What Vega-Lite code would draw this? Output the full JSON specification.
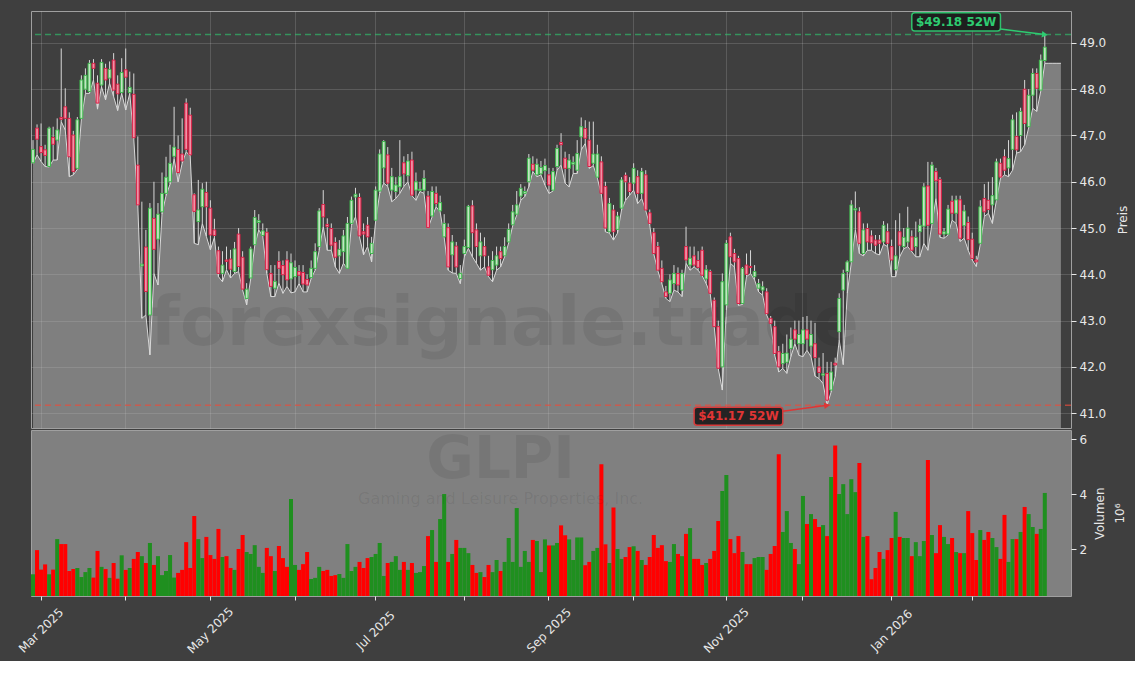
{
"$schema": "https://vega.github.io/schema/vega-lite/v6.json",
"background": "#3f3f3f",
"padding": {"left": 15, "top": 10, "right": 5, "bottom": 5},
"spacing": 0,
"datasets": {"px": [
{"date":"2025-02-27","open":46.41,"high":46.90,"low":46.40,"close":46.70,"volume":1.08},
{"date":"2025-02-28","open":47.16,"high":47.24,"low":46.58,"close":46.92,"volume":1.96},
{"date":"2025-03-03","open":46.76,"high":47.26,"low":46.44,"close":46.63,"volume":1.25},
{"date":"2025-03-04","open":46.69,"high":46.80,"low":46.33,"close":46.57,"volume":1.44},
{"date":"2025-03-05","open":46.33,"high":47.19,"low":46.32,"close":47.16,"volume":1.08},
{"date":"2025-03-06","open":46.96,"high":47.19,"low":46.47,"close":46.81,"volume":1.25},
{"date":"2025-03-07","open":46.90,"high":47.37,"low":46.47,"close":47.12,"volume":2.36},
{"date":"2025-03-10","open":47.39,"high":48.88,"low":47.30,"close":47.35,"volume":2.18},
{"date":"2025-03-11","open":47.62,"high":48.02,"low":47.12,"close":47.37,"volume":2.18},
{"date":"2025-03-12","open":47.37,"high":47.50,"low":46.11,"close":46.54,"volume":1.20},
{"date":"2025-03-13","open":47.01,"high":47.10,"low":46.15,"close":46.22,"volume":1.27},
{"date":"2025-03-14","open":46.29,"high":47.40,"low":46.27,"close":47.34,"volume":1.31},
{"date":"2025-03-17","open":47.37,"high":48.30,"low":47.35,"close":48.20,"volume":0.98},
{"date":"2025-03-18","open":48.00,"high":48.45,"low":47.91,"close":48.30,"volume":1.16},
{"date":"2025-03-19","open":47.95,"high":48.63,"low":47.91,"close":48.56,"volume":1.31},
{"date":"2025-03-20","open":48.56,"high":48.65,"low":48.20,"close":48.45,"volume":0.96},
{"date":"2025-03-21","open":48.13,"high":48.30,"low":47.57,"close":47.70,"volume":1.93},
{"date":"2025-03-24","open":48.09,"high":48.65,"low":48.05,"close":48.58,"volume":1.35},
{"date":"2025-03-25","open":48.45,"high":48.55,"low":47.77,"close":48.20,"volume":1.27},
{"date":"2025-03-26","open":48.24,"high":48.60,"low":48.13,"close":48.43,"volume":0.95},
{"date":"2025-03-27","open":48.63,"high":48.78,"low":47.84,"close":47.98,"volume":1.49},
{"date":"2025-03-28","open":48.11,"high":48.30,"low":47.54,"close":47.90,"volume":0.92},
{"date":"2025-03-31","open":47.93,"high":48.67,"low":47.91,"close":48.36,"volume":1.77},
{"date":"2025-04-01","open":48.42,"high":48.88,"low":47.55,"close":48.26,"volume":1.24},
{"date":"2025-04-02","open":47.93,"high":48.38,"low":47.91,"close":48.04,"volume":1.31},
{"date":"2025-04-03","open":47.89,"high":48.34,"low":46.92,"close":46.95,"volume":1.64},
{"date":"2025-04-04","open":46.36,"high":46.98,"low":45.48,"close":45.50,"volume":1.89},
{"date":"2025-04-07","open":44.18,"high":45.57,"low":43.05,"close":44.22,"volume":1.74},
{"date":"2025-04-08","open":44.59,"high":44.96,"low":43.12,"close":43.63,"volume":1.49},
{"date":"2025-04-09","open":43.12,"high":45.54,"low":42.26,"close":45.43,"volume":2.22},
{"date":"2025-04-10","open":45.21,"high":46.00,"low":44.02,"close":44.54,"volume":1.42},
{"date":"2025-04-11","open":44.76,"high":45.54,"low":43.77,"close":45.30,"volume":1.74},
{"date":"2025-04-14","open":45.35,"high":46.20,"low":45.30,"close":45.75,"volume":1.05},
{"date":"2025-04-15","open":45.75,"high":46.54,"low":45.70,"close":46.10,"volume":1.20},
{"date":"2025-04-16","open":46.00,"high":46.80,"low":45.95,"close":46.40,"volume":1.78},
{"date":"2025-04-17","open":46.55,"high":47.62,"low":46.50,"close":46.75,"volume":0.96},
{"date":"2025-04-21","open":46.70,"high":47.00,"low":46.00,"close":46.20,"volume":1.13},
{"date":"2025-04-22","open":46.60,"high":47.37,"low":46.40,"close":46.45,"volume":1.24},
{"date":"2025-04-23","open":47.70,"high":47.80,"low":46.65,"close":46.70,"volume":2.25},
{"date":"2025-04-24","open":47.44,"high":47.60,"low":46.55,"close":46.58,"volume":1.31},
{"date":"2025-04-25","open":45.72,"high":45.75,"low":44.67,"close":45.36,"volume":3.20},
{"date":"2025-04-28","open":45.14,"high":46.04,"low":44.64,"close":45.39,"volume":2.36},
{"date":"2025-04-29","open":45.46,"high":45.97,"low":45.10,"close":45.84,"volume":1.67},
{"date":"2025-04-30","open":45.77,"high":46.00,"low":44.82,"close":45.46,"volume":2.44},
{"date":"2025-05-01","open":45.43,"high":45.60,"low":44.53,"close":44.85,"volume":1.78},
{"date":"2025-05-02","open":44.96,"high":45.20,"low":44.80,"close":44.84,"volume":1.64},
{"date":"2025-05-05","open":44.51,"high":44.60,"low":43.95,"close":44.02,"volume":2.73},
{"date":"2025-05-06","open":44.02,"high":44.50,"low":43.84,"close":44.20,"volume":1.71},
{"date":"2025-05-07","open":44.31,"high":44.60,"low":44.10,"close":44.28,"volume":1.74},
{"date":"2025-05-08","open":44.33,"high":44.53,"low":43.92,"close":44.11,"volume":1.31},
{"date":"2025-05-09","open":44.06,"high":44.70,"low":44.02,"close":44.55,"volume":1.24},
{"date":"2025-05-12","open":44.87,"high":45.00,"low":44.06,"close":44.17,"volume":2.00},
{"date":"2025-05-13","open":44.37,"high":44.50,"low":43.66,"close":43.68,"volume":2.51},
{"date":"2025-05-14","open":43.48,"high":43.81,"low":43.34,"close":43.68,"volume":1.89},
{"date":"2025-05-15","open":43.92,"high":44.60,"low":43.90,"close":44.55,"volume":1.82},
{"date":"2025-05-16","open":44.64,"high":45.39,"low":44.62,"close":45.23,"volume":2.14},
{"date":"2025-05-19","open":45.12,"high":45.30,"low":44.96,"close":45.16,"volume":1.35},
{"date":"2025-05-20","open":44.84,"high":45.10,"low":44.82,"close":44.94,"volume":1.13},
{"date":"2025-05-21","open":44.91,"high":45.00,"low":44.02,"close":44.10,"volume":2.04},
{"date":"2025-05-22","open":44.02,"high":44.20,"low":43.52,"close":43.74,"volume":1.74},
{"date":"2025-05-23","open":43.70,"high":44.20,"low":43.52,"close":43.85,"volume":1.20},
{"date":"2025-05-27","open":44.28,"high":44.50,"low":43.81,"close":44.13,"volume":2.11},
{"date":"2025-05-28","open":44.19,"high":44.30,"low":43.59,"close":43.99,"volume":1.67},
{"date":"2025-05-29","open":44.31,"high":44.50,"low":43.74,"close":43.88,"volume":1.35},
{"date":"2025-05-30","open":43.90,"high":44.45,"low":43.60,"close":44.25,"volume":3.82},
{"date":"2025-06-02","open":43.95,"high":44.30,"low":43.62,"close":44.15,"volume":1.42},
{"date":"2025-06-03","open":44.06,"high":44.20,"low":43.80,"close":43.98,"volume":1.24},
{"date":"2025-06-04","open":44.04,"high":44.20,"low":43.62,"close":43.79,"volume":1.45},
{"date":"2025-06-05","open":43.89,"high":44.00,"low":43.62,"close":43.77,"volume":1.89},
{"date":"2025-06-06","open":43.93,"high":44.30,"low":43.91,"close":44.13,"volume":0.91},
{"date":"2025-06-09","open":44.13,"high":44.67,"low":44.09,"close":44.49,"volume":0.95},
{"date":"2025-06-10","open":44.60,"high":45.43,"low":44.52,"close":45.37,"volume":1.35},
{"date":"2025-06-11","open":45.51,"high":45.82,"low":45.03,"close":45.24,"volume":1.20},
{"date":"2025-06-12","open":45.08,"high":45.21,"low":44.52,"close":45.03,"volume":1.24},
{"date":"2025-06-13","open":44.99,"high":45.10,"low":44.52,"close":44.63,"volume":1.02},
{"date":"2025-06-16","open":44.69,"high":44.80,"low":44.16,"close":44.37,"volume":1.05},
{"date":"2025-06-17","open":44.40,"high":44.74,"low":44.02,"close":44.54,"volume":1.09},
{"date":"2025-06-18","open":44.49,"high":44.96,"low":44.24,"close":44.83,"volume":0.95},
{"date":"2025-06-20","open":44.13,"high":45.24,"low":44.12,"close":45.10,"volume":2.18},
{"date":"2025-06-23","open":45.10,"high":45.68,"low":45.06,"close":45.60,"volume":1.20},
{"date":"2025-06-24","open":45.67,"high":45.87,"low":45.24,"close":45.73,"volume":1.35},
{"date":"2025-06-25","open":45.66,"high":45.75,"low":44.81,"close":44.83,"volume":1.53},
{"date":"2025-06-26","open":44.92,"high":45.10,"low":44.42,"close":44.87,"volume":1.31},
{"date":"2025-06-27","open":45.06,"high":45.24,"low":44.60,"close":44.81,"volume":1.67},
{"date":"2025-06-30","open":44.45,"high":44.81,"low":44.27,"close":44.67,"volume":1.71},
{"date":"2025-07-01","open":45.17,"high":45.90,"low":45.15,"close":45.82,"volume":1.82},
{"date":"2025-07-02","open":45.80,"high":46.70,"low":45.75,"close":46.60,"volume":2.22},
{"date":"2025-07-03","open":46.30,"high":46.90,"low":45.97,"close":46.87,"volume":1.02},
{"date":"2025-07-07","open":46.58,"high":46.75,"low":45.90,"close":45.97,"volume":1.49},
{"date":"2025-07-08","open":45.82,"high":46.30,"low":45.57,"close":46.11,"volume":1.53},
{"date":"2025-07-09","open":45.79,"high":46.10,"low":45.64,"close":45.93,"volume":1.74},
{"date":"2025-07-10","open":45.89,"high":46.90,"low":45.75,"close":46.11,"volume":1.24},
{"date":"2025-07-11","open":46.41,"high":46.55,"low":45.90,"close":46.17,"volume":1.53},
{"date":"2025-07-14","open":46.13,"high":46.60,"low":46.00,"close":46.45,"volume":1.24},
{"date":"2025-07-15","open":46.47,"high":46.65,"low":45.70,"close":45.71,"volume":1.49},
{"date":"2025-07-16","open":45.82,"high":46.20,"low":45.60,"close":46.00,"volume":1.13},
{"date":"2025-07-17","open":45.81,"high":46.00,"low":45.79,"close":45.84,"volume":1.16},
{"date":"2025-07-18","open":45.82,"high":46.25,"low":45.75,"close":46.07,"volume":1.38},
{"date":"2025-07-21","open":45.69,"high":45.80,"low":45.00,"close":45.01,"volume":2.47},
{"date":"2025-07-22","open":45.26,"high":45.90,"low":45.24,"close":45.79,"volume":2.69},
{"date":"2025-07-23","open":45.75,"high":45.90,"low":45.46,"close":45.53,"volume":1.53},
{"date":"2025-07-24","open":45.37,"high":45.70,"low":45.35,"close":45.55,"volume":3.09},
{"date":"2025-07-25","open":44.81,"high":45.30,"low":44.80,"close":45.10,"volume":4.00},
{"date":"2025-07-28","open":45.01,"high":45.10,"low":44.09,"close":44.16,"volume":1.53},
{"date":"2025-07-29","open":44.42,"high":44.85,"low":44.03,"close":44.70,"volume":1.82},
{"date":"2025-07-30","open":44.61,"high":44.70,"low":44.02,"close":44.16,"volume":2.33},
{"date":"2025-07-31","open":43.91,"high":44.20,"low":43.80,"close":44.02,"volume":2.04},
{"date":"2025-08-01","open":44.45,"high":44.75,"low":44.38,"close":44.60,"volume":2.04},
{"date":"2025-08-04","open":44.58,"high":45.50,"low":44.56,"close":45.47,"volume":1.85},
{"date":"2025-08-05","open":45.48,"high":45.60,"low":44.38,"close":44.90,"volume":1.42},
{"date":"2025-08-06","open":44.96,"high":45.10,"low":44.24,"close":44.60,"volume":1.13},
{"date":"2025-08-07","open":44.40,"high":44.90,"low":44.09,"close":44.70,"volume":1.16},
{"date":"2025-08-08","open":44.60,"high":44.80,"low":44.16,"close":44.40,"volume":0.98},
{"date":"2025-08-11","open":44.16,"high":44.40,"low":43.95,"close":43.98,"volume":1.42},
{"date":"2025-08-12","open":44.10,"high":44.50,"low":43.84,"close":44.30,"volume":1.16},
{"date":"2025-08-13","open":44.20,"high":44.60,"low":44.09,"close":44.40,"volume":1.60},
{"date":"2025-08-14","open":44.49,"high":44.60,"low":44.16,"close":44.34,"volume":1.20},
{"date":"2025-08-15","open":44.40,"high":44.80,"low":44.38,"close":44.60,"volume":1.53},
{"date":"2025-08-18","open":44.70,"high":45.10,"low":44.68,"close":44.97,"volume":2.40},
{"date":"2025-08-19","open":45.07,"high":45.50,"low":45.05,"close":45.35,"volume":1.53},
{"date":"2025-08-20","open":45.30,"high":45.80,"low":45.28,"close":45.50,"volume":3.49},
{"date":"2025-08-21","open":45.69,"high":45.95,"low":45.60,"close":45.86,"volume":1.35},
{"date":"2025-08-22","open":45.75,"high":45.90,"low":45.68,"close":45.79,"volume":1.93},
{"date":"2025-08-25","open":46.00,"high":46.60,"low":45.89,"close":46.51,"volume":1.53},
{"date":"2025-08-26","open":46.38,"high":46.55,"low":46.22,"close":46.25,"volume":2.33},
{"date":"2025-08-27","open":46.15,"high":46.50,"low":46.11,"close":46.38,"volume":2.29},
{"date":"2025-08-28","open":46.17,"high":46.45,"low":46.15,"close":46.31,"volume":1.16},
{"date":"2025-08-29","open":46.24,"high":46.50,"low":45.93,"close":46.35,"volume":2.35},
{"date":"2025-09-02","open":46.15,"high":46.30,"low":45.75,"close":45.93,"volume":2.13},
{"date":"2025-09-03","open":45.82,"high":46.30,"low":45.80,"close":46.22,"volume":2.13},
{"date":"2025-09-04","open":46.33,"high":46.80,"low":46.25,"close":46.72,"volume":2.22},
{"date":"2025-09-05","open":46.85,"high":47.05,"low":46.36,"close":46.80,"volume":2.86},
{"date":"2025-09-08","open":46.51,"high":46.65,"low":45.97,"close":46.29,"volume":2.50},
{"date":"2025-09-09","open":46.29,"high":46.60,"low":45.89,"close":46.47,"volume":2.35},
{"date":"2025-09-10","open":46.38,"high":46.55,"low":46.18,"close":46.42,"volume":1.60},
{"date":"2025-09-11","open":46.25,"high":46.90,"low":46.18,"close":46.61,"volume":2.42},
{"date":"2025-09-12","open":46.97,"high":47.39,"low":46.69,"close":47.19,"volume":2.42},
{"date":"2025-09-15","open":47.15,"high":47.33,"low":46.83,"close":46.94,"volume":1.41},
{"date":"2025-09-16","open":46.90,"high":47.30,"low":46.29,"close":46.33,"volume":1.53},
{"date":"2025-09-17","open":46.40,"high":47.30,"low":46.35,"close":46.60,"volume":1.93},
{"date":"2025-09-18","open":46.10,"high":46.80,"low":46.08,"close":46.60,"volume":2.04},
{"date":"2025-09-19","open":46.43,"high":46.55,"low":45.72,"close":45.75,"volume":5.08},
{"date":"2025-09-22","open":45.90,"high":46.00,"low":44.92,"close":45.00,"volume":2.17},
{"date":"2025-09-23","open":44.92,"high":45.65,"low":44.89,"close":45.53,"volume":1.49},
{"date":"2025-09-24","open":45.39,"high":45.50,"low":44.74,"close":44.92,"volume":3.51},
{"date":"2025-09-25","open":44.97,"high":45.35,"low":44.89,"close":45.26,"volume":2.00},
{"date":"2025-09-26","open":45.43,"high":46.10,"low":45.39,"close":46.04,"volume":1.64},
{"date":"2025-09-29","open":46.14,"high":46.20,"low":45.60,"close":46.00,"volume":1.71},
{"date":"2025-09-30","open":45.97,"high":46.10,"low":45.71,"close":45.79,"volume":2.07},
{"date":"2025-10-01","open":45.97,"high":46.40,"low":45.82,"close":46.29,"volume":2.10},
{"date":"2025-10-02","open":46.11,"high":46.25,"low":45.53,"close":45.75,"volume":1.93},
{"date":"2025-10-03","open":45.75,"high":46.30,"low":45.64,"close":46.22,"volume":1.60},
{"date":"2025-10-06","open":46.15,"high":46.25,"low":45.38,"close":45.39,"volume":1.42},
{"date":"2025-10-07","open":45.33,"high":45.40,"low":45.06,"close":45.10,"volume":1.71},
{"date":"2025-10-08","open":44.90,"high":45.00,"low":44.44,"close":44.45,"volume":2.51},
{"date":"2025-10-09","open":44.60,"high":44.70,"low":44.08,"close":44.09,"volume":2.04},
{"date":"2025-10-10","open":44.13,"high":44.30,"low":43.80,"close":43.84,"volume":2.14},
{"date":"2025-10-13","open":43.62,"high":43.75,"low":43.48,"close":43.52,"volume":1.56},
{"date":"2025-10-14","open":43.59,"high":44.00,"low":43.41,"close":43.88,"volume":1.53},
{"date":"2025-10-15","open":43.80,"high":44.20,"low":43.66,"close":44.02,"volume":2.18},
{"date":"2025-10-16","open":44.02,"high":44.15,"low":43.62,"close":43.77,"volume":1.82},
{"date":"2025-10-17","open":43.66,"high":44.10,"low":43.52,"close":44.02,"volume":1.74},
{"date":"2025-10-20","open":44.60,"high":45.03,"low":44.24,"close":44.31,"volume":2.55},
{"date":"2025-10-21","open":44.20,"high":44.60,"low":44.09,"close":44.35,"volume":2.76},
{"date":"2025-10-22","open":44.40,"high":44.60,"low":44.16,"close":44.20,"volume":1.64},
{"date":"2025-10-23","open":44.30,"high":44.50,"low":44.09,"close":44.15,"volume":1.64},
{"date":"2025-10-24","open":44.52,"high":44.60,"low":43.97,"close":43.98,"volume":1.42},
{"date":"2025-10-27","open":43.90,"high":44.20,"low":43.80,"close":44.10,"volume":1.49},
{"date":"2025-10-28","open":44.06,"high":44.10,"low":43.58,"close":43.59,"volume":1.64},
{"date":"2025-10-29","open":43.44,"high":43.50,"low":42.86,"close":42.87,"volume":1.93},
{"date":"2025-10-30","open":42.87,"high":43.00,"low":41.96,"close":41.97,"volume":3.02},
{"date":"2025-10-31","open":42.00,"high":44.02,"low":41.50,"close":43.84,"volume":4.11},
{"date":"2025-11-03","open":43.34,"high":44.74,"low":43.23,"close":44.67,"volume":4.69},
{"date":"2025-11-04","open":44.81,"high":44.90,"low":44.24,"close":44.38,"volume":2.36},
{"date":"2025-11-05","open":44.45,"high":44.55,"low":44.16,"close":44.27,"volume":1.85},
{"date":"2025-11-06","open":44.34,"high":44.40,"low":43.33,"close":43.37,"volume":2.47},
{"date":"2025-11-07","open":43.37,"high":44.16,"low":43.35,"close":44.13,"volume":1.89},
{"date":"2025-11-10","open":44.20,"high":44.45,"low":43.95,"close":44.00,"volume":1.45},
{"date":"2025-11-11","open":44.17,"high":44.52,"low":44.02,"close":44.15,"volume":1.45},
{"date":"2025-11-12","open":43.95,"high":44.20,"low":43.88,"close":44.06,"volume":1.67},
{"date":"2025-11-13","open":43.70,"high":43.90,"low":43.62,"close":43.80,"volume":1.71},
{"date":"2025-11-14","open":43.66,"high":43.85,"low":43.55,"close":43.73,"volume":1.71},
{"date":"2025-11-17","open":43.62,"high":43.70,"low":43.12,"close":43.15,"volume":1.24},
{"date":"2025-11-18","open":43.05,"high":43.10,"low":42.93,"close":42.94,"volume":1.82},
{"date":"2025-11-19","open":42.87,"high":43.00,"low":42.25,"close":42.29,"volume":2.11},
{"date":"2025-11-20","open":42.33,"high":42.45,"low":41.89,"close":42.00,"volume":5.45},
{"date":"2025-11-21","open":42.07,"high":42.50,"low":41.97,"close":42.29,"volume":2.62},
{"date":"2025-11-24","open":42.10,"high":42.70,"low":41.86,"close":42.30,"volume":3.38},
{"date":"2025-11-25","open":42.40,"high":42.85,"low":42.22,"close":42.60,"volume":2.22},
{"date":"2025-11-26","open":42.80,"high":43.00,"low":42.50,"close":42.60,"volume":2.00},
{"date":"2025-11-28","open":42.50,"high":43.00,"low":42.25,"close":42.70,"volume":1.45},
{"date":"2025-12-01","open":42.50,"high":43.08,"low":42.22,"close":42.80,"volume":3.93},
{"date":"2025-12-02","open":42.80,"high":43.10,"low":42.36,"close":42.60,"volume":2.91},
{"date":"2025-12-03","open":42.45,"high":43.00,"low":42.22,"close":42.70,"volume":3.27},
{"date":"2025-12-04","open":42.50,"high":42.95,"low":41.80,"close":42.20,"volume":3.09},
{"date":"2025-12-05","open":42.00,"high":42.20,"low":41.75,"close":41.88,"volume":2.80},
{"date":"2025-12-08","open":41.82,"high":42.30,"low":41.64,"close":41.85,"volume":2.87},
{"date":"2025-12-09","open":41.86,"high":42.11,"low":41.17,"close":41.28,"volume":2.47},
{"date":"2025-12-10","open":41.50,"high":42.11,"low":41.46,"close":41.89,"volume":4.62},
{"date":"2025-12-11","open":42.08,"high":42.20,"low":41.79,"close":42.04,"volume":5.77},
{"date":"2025-12-12","open":42.76,"high":43.59,"low":42.58,"close":43.48,"volume":4.00},
{"date":"2025-12-15","open":43.66,"high":44.10,"low":42.05,"close":44.02,"volume":4.36},
{"date":"2025-12-16","open":44.06,"high":44.30,"low":43.59,"close":44.27,"volume":3.27},
{"date":"2025-12-17","open":44.27,"high":45.60,"low":44.25,"close":45.50,"volume":4.54},
{"date":"2025-12-18","open":45.39,"high":45.79,"low":44.96,"close":45.42,"volume":4.07},
{"date":"2025-12-19","open":45.35,"high":45.45,"low":44.45,"close":44.67,"volume":5.13},
{"date":"2025-12-22","open":44.45,"high":45.10,"low":44.40,"close":44.96,"volume":2.44},
{"date":"2025-12-23","open":44.99,"high":45.10,"low":44.52,"close":44.70,"volume":2.47},
{"date":"2025-12-24","open":44.83,"high":44.95,"low":44.52,"close":44.68,"volume":0.90},
{"date":"2025-12-26","open":44.74,"high":44.85,"low":44.45,"close":44.63,"volume":1.31},
{"date":"2025-12-29","open":44.74,"high":44.85,"low":44.42,"close":44.67,"volume":1.89},
{"date":"2025-12-30","open":44.70,"high":45.15,"low":44.65,"close":45.06,"volume":1.64},
{"date":"2025-12-31","open":44.92,"high":45.10,"low":44.60,"close":44.67,"volume":1.96},
{"date":"2026-01-02","open":44.60,"high":44.75,"low":43.95,"close":44.31,"volume":2.40},
{"date":"2026-01-05","open":44.10,"high":45.17,"low":43.95,"close":44.40,"volume":3.35},
{"date":"2026-01-06","open":44.92,"high":45.32,"low":44.38,"close":44.63,"volume":2.44},
{"date":"2026-01-07","open":44.60,"high":45.00,"low":44.55,"close":44.80,"volume":2.40},
{"date":"2026-01-08","open":44.70,"high":45.46,"low":44.60,"close":45.00,"volume":2.40},
{"date":"2026-01-09","open":44.81,"high":44.95,"low":44.49,"close":44.52,"volume":1.74},
{"date":"2026-01-12","open":44.60,"high":45.14,"low":44.38,"close":44.80,"volume":2.25},
{"date":"2026-01-13","open":44.92,"high":45.20,"low":44.38,"close":45.06,"volume":1.74},
{"date":"2026-01-14","open":45.04,"high":45.97,"low":44.67,"close":45.89,"volume":2.29},
{"date":"2026-01-15","open":45.91,"high":46.43,"low":44.52,"close":45.06,"volume":5.24},
{"date":"2026-01-16","open":45.10,"high":46.43,"low":45.08,"close":46.36,"volume":2.51},
{"date":"2026-01-20","open":46.22,"high":46.30,"low":45.64,"close":46.02,"volume":1.85},
{"date":"2026-01-21","open":46.05,"high":46.10,"low":44.80,"close":44.87,"volume":2.87},
{"date":"2026-01-22","open":44.87,"high":45.00,"low":44.78,"close":44.92,"volume":2.44},
{"date":"2026-01-23","open":44.87,"high":45.50,"low":44.85,"close":45.41,"volume":2.18},
{"date":"2026-01-26","open":45.58,"high":45.70,"low":45.17,"close":45.32,"volume":2.40},
{"date":"2026-01-27","open":45.32,"high":45.70,"low":45.10,"close":45.61,"volume":1.89},
{"date":"2026-01-28","open":45.61,"high":45.70,"low":44.71,"close":44.78,"volume":1.85},
{"date":"2026-01-29","open":45.05,"high":45.50,"low":44.78,"close":45.37,"volume":1.85},
{"date":"2026-01-30","open":45.12,"high":45.25,"low":44.52,"close":44.75,"volume":3.38},
{"date":"2026-02-02","open":44.76,"high":44.90,"low":44.31,"close":44.34,"volume":2.58},
{"date":"2026-02-03","open":44.31,"high":44.40,"low":44.17,"close":44.27,"volume":1.60},
{"date":"2026-02-04","open":44.67,"high":45.60,"low":44.65,"close":45.46,"volume":2.69},
{"date":"2026-02-05","open":45.64,"high":45.95,"low":45.25,"close":45.35,"volume":2.33},
{"date":"2026-02-06","open":45.60,"high":46.00,"low":45.32,"close":45.40,"volume":2.62},
{"date":"2026-02-09","open":45.50,"high":46.10,"low":45.10,"close":45.70,"volume":2.40},
{"date":"2026-02-10","open":45.61,"high":46.50,"low":45.60,"close":46.43,"volume":2.07},
{"date":"2026-02-11","open":46.40,"high":46.50,"low":46.07,"close":46.10,"volume":1.64},
{"date":"2026-02-12","open":46.54,"high":46.70,"low":46.15,"close":46.25,"volume":3.24},
{"date":"2026-02-13","open":46.30,"high":46.90,"low":46.11,"close":46.50,"volume":1.53},
{"date":"2026-02-17","open":46.70,"high":47.45,"low":46.25,"close":47.34,"volume":2.36},
{"date":"2026-02-18","open":46.98,"high":47.50,"low":46.62,"close":46.69,"volume":2.36},
{"date":"2026-02-19","open":47.00,"high":47.60,"low":46.65,"close":47.52,"volume":2.62},
{"date":"2026-02-20","open":48.00,"high":48.20,"low":46.80,"close":47.26,"volume":3.53},
{"date":"2026-02-23","open":47.19,"high":48.00,"low":47.17,"close":47.87,"volume":3.27},
{"date":"2026-02-24","open":47.87,"high":48.45,"low":47.59,"close":48.34,"volume":2.80},
{"date":"2026-02-25","open":48.34,"high":48.45,"low":47.52,"close":48.02,"volume":2.55},
{"date":"2026-02-26","open":47.98,"high":48.75,"low":47.96,"close":48.63,"volume":2.73},
{"date":"2026-02-27","open":48.62,"high":49.18,"low":48.56,"close":48.91,"volume":4.04},
{"date":"2026-03-02","low":48.56},
{"date":"2026-03-03","low":48.56},
{"date":"2026-03-04","low":48.56},
{"date":"2026-03-05","low":48.56}
]},
"data": {"name": "px"},
"resolve": {"scale": {"x": "shared", "y": "independent"}, "axis": {"x": "independent", "y": "independent"}},
"vconcat": [
{
"width": 1040, "height": 417,
"layer": [
{"mark": {"type": "area", "fill": "#c0c0c0", "fillOpacity": 0.5, "clip": true, "line": {"color": "#d9d9d9", "strokeWidth": 1}},
 "encoding": {
  "x": {"field": "date", "type": "ordinal",
        "scale": {"type": "band", "paddingInner": 0, "paddingOuter": 0, "domain": {"unionWith": ["2026-03-06", "2026-03-09"]}},
        "axis": {"values": ["2025-03-03","2025-04-01","2025-05-01","2025-06-02","2025-07-01","2025-08-01","2025-09-02","2025-10-01","2025-11-03","2025-12-01","2026-01-02","2026-02-02"],
                 "labels": false, "ticks": false, "domain": false, "grid": true, "gridColor": "#ffffff", "gridOpacity": 0.15, "title": null, "bandPosition": 0.5}},
  "y": {"field": "low", "type": "quantitative",
        "scale": {"domain": [40.68, 49.69], "zero": false, "nice": false},
        "axis": {"orient": "right", "values": [41,42,43,44,45,46,47,48,49], "format": ".1f", "tickSize": 5, "labelPadding": 3,
                 "grid": true, "gridColor": "#ffffff", "gridOpacity": 0.15, "title": "Preis", "titleAngle": 270, "titlePadding": 24}}
 }},
{"data": {"values": [{}]},
 "mark": {"type": "text", "text": "forexsignale.trade", "fontSize": 68, "fontWeight": "bold", "fill": "#000000", "fillOpacity": 0.08, "align": "center", "baseline": "middle"},
 "encoding": {"x": {"datum": "2025-08-15", "type": "ordinal"}, "y": {"datum": 42.9, "type": "quantitative"}}},
{"data": {"values": [{}]},
 "mark": {"type": "rule", "color": "#2ecc71", "strokeDash": [6, 4], "strokeWidth": 1.5, "opacity": 0.6},
 "encoding": {"y": {"datum": 49.18, "type": "quantitative"}}},
{"data": {"values": [{}]},
 "mark": {"type": "rule", "color": "#e74c3c", "strokeDash": [6, 4], "strokeWidth": 1.5, "opacity": 0.7},
 "encoding": {"y": {"datum": 41.17, "type": "quantitative"}}},
{"transform": [{"filter": "isValid(datum.open)"}],
 "mark": {"type": "rule", "color": "#d8d8d8", "strokeWidth": 1},
 "encoding": {"x": {"field": "date", "type": "ordinal"}, "y": {"field": "low", "type": "quantitative"}, "y2": {"field": "high"}}},
{"transform": [{"filter": "isValid(datum.open)"}],
 "mark": {"type": "bar", "width": {"band": 0.7}, "strokeWidth": 1},
 "encoding": {"x": {"field": "date", "type": "ordinal"}, "y": {"field": "open", "type": "quantitative"}, "y2": {"field": "close"},
  "fill": {"condition": {"test": "datum.close >= datum.open", "value": "#c4e4c4"}, "value": "#ef92a6"},
  "stroke": {"condition": {"test": "datum.close >= datum.open", "value": "#3dbb4c"}, "value": "#dc1f45"}}},
{"data": {"values": [{}]},
 "mark": {"type": "rule", "color": "#2ecc71", "strokeWidth": 1.5},
 "encoding": {"x": {"datum": "2026-02-11", "type": "ordinal"}, "x2": {"datum": "2026-02-27"}, "y": {"datum": 49.30, "type": "quantitative"}, "y2": {"datum": 49.18}}},
{"data": {"values": [{}]},
 "mark": {"type": "point", "shape": "triangle-right", "filled": true, "color": "#2ecc71", "size": 45, "angle": 7, "opacity": 1},
 "encoding": {"x": {"datum": "2026-02-27", "type": "ordinal"}, "y": {"datum": 49.18, "type": "quantitative"}}},
{"data": {"values": [{}]},
 "mark": {"type": "rule", "color": "#e03535", "strokeWidth": 1.5},
 "encoding": {"x": {"datum": "2025-11-21", "type": "ordinal"}, "x2": {"datum": "2025-12-09"}, "y": {"datum": 41.043, "type": "quantitative"}, "y2": {"datum": 41.17}}},
{"data": {"values": [{}]},
 "mark": {"type": "point", "shape": "triangle-right", "filled": true, "color": "#e03535", "size": 45, "angle": -8, "opacity": 1},
 "encoding": {"x": {"datum": "2025-12-09", "type": "ordinal"}, "y": {"datum": 41.17, "type": "quantitative"}}},
{"data": {"values": [{}]},
 "mark": {"type": "rect", "fill": "#1c1c1c", "stroke": "#2ecc71", "strokeWidth": 1.5, "cornerRadius": 3, "opacity": 0.92},
 "encoding": {"x": {"datum": "2026-01-09", "type": "ordinal"}, "x2": {"datum": "2026-02-11"}, "y": {"datum": 49.65, "type": "quantitative"}, "y2": {"datum": 49.26}}},
{"data": {"values": [{}]},
 "mark": {"type": "rect", "fill": "#1c1c1c", "stroke": "#e03535", "strokeWidth": 1.5, "cornerRadius": 3, "opacity": 0.92},
 "encoding": {"x": {"datum": "2025-10-22", "type": "ordinal"}, "x2": {"datum": "2025-11-21"}, "y": {"datum": 41.13, "type": "quantitative"}, "y2": {"datum": 40.74}}},
{"data": {"values": [{}]},
 "mark": {"type": "text", "text": "$49.18 52W", "fontSize": 12, "fontWeight": "bold", "color": "#2ecc71", "align": "center", "baseline": "middle"},
 "encoding": {"x": {"datum": "2026-01-27", "type": "ordinal"}, "y": {"datum": 49.455, "type": "quantitative"}}},
{"data": {"values": [{}]},
 "mark": {"type": "text", "text": "$41.17 52W", "fontSize": 12, "fontWeight": "bold", "color": "#e03535", "align": "center", "baseline": "middle"},
 "encoding": {"x": {"datum": "2025-11-06", "type": "ordinal"}, "y": {"datum": 40.935, "type": "quantitative"}}}
]
},
{
"width": 1040, "height": 166,
"view": {"fill": "#808080", "stroke": "#a0a0a0"},
"layer": [
{"transform": [{"filter": "isValid(datum.volume)"}],
 "mark": {"type": "bar", "width": {"band": 1}, "clip": true},
 "encoding": {
  "x": {"field": "date", "type": "ordinal",
        "axis": {"values": ["2025-03-03","2025-04-01","2025-05-01","2025-06-02","2025-07-01","2025-08-01","2025-09-02","2025-10-01","2025-11-03","2025-12-01","2026-01-02","2026-02-02"],
                 "labelExpr": "utcmonth(toDate(datum.value)) % 2 == 0 ? utcFormat(toDate(datum.value), '%b %Y') : ''",
                 "labelAngle": -45, "labelAlign": "center", "labelBaseline": "middle", "labelPadding": 30, "labelOverlap": false,
                 "tickSize": 4, "grid": false, "title": null, "bandPosition": 0.5}},
  "y": {"field": "volume", "type": "quantitative",
        "scale": {"domain": [0.29, 6.33], "zero": false, "nice": false},
        "axis": {"orient": "right", "values": [2, 4, 6], "format": "d", "tickSize": 5, "labelPadding": 3, "grid": false,
                 "title": ["Volumen", "10⁶"], "titleAngle": 270, "titlePadding": 0, "titleLineHeight": 20}},
  "color": {"condition": {"test": "datum.close >= datum.open", "value": "#1f8f1f"}, "value": "#ff0000"}
 }},
{"data": {"values": [{}]},
 "mark": {"type": "text", "text": "GLPI", "fontSize": 58, "fontWeight": "bold", "fill": "#000000", "fillOpacity": 0.08, "align": "center", "baseline": "middle"},
 "encoding": {"x": {"datum": "2025-08-14", "type": "ordinal"}, "y": {"datum": 5.2, "type": "quantitative"}}},
{"data": {"values": [{}]},
 "mark": {"type": "text", "text": "Gaming and Leisure Properties, Inc.", "fontSize": 16, "fill": "#000000", "fillOpacity": 0.08, "align": "center", "baseline": "middle"},
 "encoding": {"x": {"datum": "2025-08-14", "type": "ordinal"}, "y": {"datum": 3.83, "type": "quantitative"}}}
]
}
],
"config": {
 "font": "DejaVu Sans",
 "view": {"stroke": "#a0a0a0", "strokeWidth": 1},
 "axis": {"labelColor": "#e8e8e8", "titleColor": "#e8e8e8", "tickColor": "#e8e8e8", "labelFontSize": 12, "titleFontSize": 12, "titleFontWeight": "normal", "domain": false}
}
}
